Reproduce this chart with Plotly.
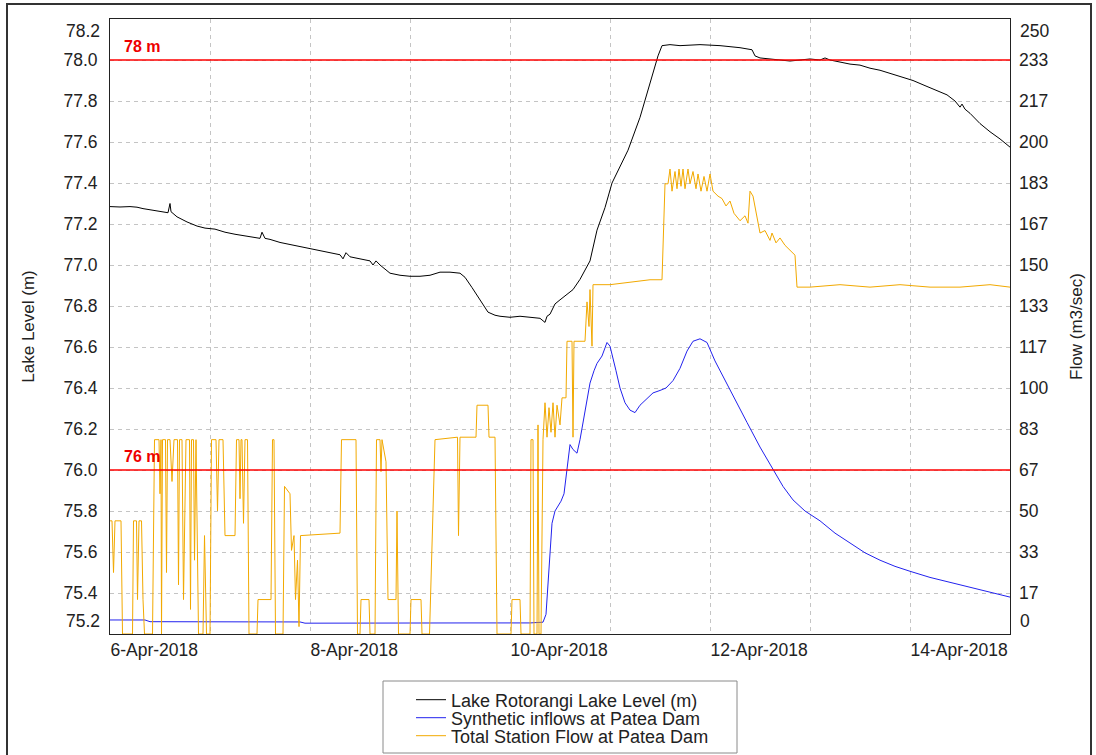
import pandas as pd
import plotly.graph_objects as go

START = pd.Timestamp("2018-04-06 00:00:00")

# Lake Rotorangi lake level (m); time as day offset from 6-Apr-2018 00:00
level_day = [0.00, 0.10, 0.20, 0.27, 0.33, 0.40, 0.47, 0.53, 0.58, 0.60, 0.61, 0.67, 0.77, 0.87,
             0.95, 1.05, 1.15, 1.25, 1.40, 1.50, 1.52, 1.55, 1.60, 1.70, 1.80, 1.90, 2.00, 2.10,
             2.20, 2.30, 2.33, 2.36, 2.40, 2.50, 2.60, 2.63, 2.66, 2.70, 2.80, 2.90, 3.00, 3.10,
             3.20, 3.30, 3.40, 3.50, 3.55, 3.62, 3.70, 3.78, 3.85, 3.90, 4.00, 4.10, 4.20, 4.30,
             4.35, 4.37, 4.40, 4.45, 4.50, 4.55, 4.63, 4.70, 4.80, 4.87, 4.95, 5.02, 5.10, 5.18,
             5.30, 5.40, 5.48, 5.52, 5.60, 5.70, 5.90, 6.10, 6.20, 6.30, 6.42, 6.45, 6.50, 6.60,
             6.70, 6.80, 6.90, 7.00, 7.10, 7.15, 7.20, 7.30, 7.40, 7.50, 7.60, 7.70, 7.80, 7.90,
             8.03, 8.15, 8.25, 8.37, 8.45, 8.50, 8.52, 8.55, 8.60, 8.70, 8.80, 8.90, 9.00]
level_m = [77.285, 77.283, 77.285, 77.282, 77.275, 77.270, 77.265, 77.260, 77.255, 77.300, 77.260,
           77.235, 77.210, 77.190, 77.180, 77.175, 77.160, 77.150, 77.140, 77.130, 77.160, 77.130,
           77.125, 77.110, 77.100, 77.090, 77.080, 77.070, 77.060, 77.050, 77.030, 77.060, 77.040,
           77.030, 77.020, 77.000, 77.020, 77.000, 76.960, 76.950, 76.945, 76.945, 76.950, 76.965,
           76.965, 76.960, 76.940, 76.890, 76.830, 76.770, 76.755, 76.750, 76.745, 76.750, 76.745,
           76.740, 76.720, 76.750, 76.760, 76.810, 76.830, 76.850, 76.880, 76.930, 77.020, 77.170,
           77.280, 77.400, 77.480, 77.560, 77.720, 77.880, 78.020, 78.070, 78.075, 78.070, 78.075,
           78.070, 78.065, 78.060, 78.050, 78.020, 78.010, 78.005, 78.000, 77.995, 78.000, 78.005,
           78.000, 78.010, 78.000, 77.990, 77.980, 77.975, 77.960, 77.950, 77.935, 77.920, 77.900,
           77.875, 77.855, 77.830, 77.800, 77.770, 77.785, 77.760, 77.740, 77.690, 77.650, 77.615,
           77.575]

# Synthetic inflows at Patea Dam (m3/sec)
inflow_day = [0.00, 0.35, 0.40, 1.00, 1.90, 1.95, 2.50, 3.00, 3.60, 4.20, 4.33, 4.36, 4.38, 4.40,
              4.42, 4.45, 4.48, 4.51, 4.54, 4.57, 4.60, 4.63, 4.67, 4.70, 4.73, 4.77, 4.80, 4.84,
              4.87, 4.92, 4.97, 5.00, 5.02, 5.06, 5.10, 5.15, 5.20, 5.25, 5.30, 5.35, 5.43, 5.50,
              5.56, 5.63, 5.70, 5.77, 5.83, 5.90, 5.97, 6.05, 6.10, 6.17, 6.25, 6.37, 6.50, 6.63,
              6.73, 6.83, 6.95, 7.10, 7.25, 7.40, 7.55, 7.70, 7.85, 8.00, 8.20, 8.40, 8.60, 8.80,
              9.00]
inflow_flow = [5.7, 5.7, 5.0, 4.9, 4.9, 4.4, 4.5, 4.4, 4.5, 4.5, 4.8, 8.0, 22.0, 36.0, 45.0, 50.0,
               52.0, 54.0, 57.0, 67.0, 77.0, 75.0, 73.5, 79.0, 86.0, 95.0, 102.0, 107.0, 110.0,
               113.0, 118.5, 117.0, 114.0, 107.0, 100.0, 94.0, 91.0, 90.0, 93.0, 95.0, 98.0, 99.0,
               100.0, 103.0, 108.0, 115.0, 119.0, 120.0, 118.5, 111.0, 107.0, 102.0, 95.0, 86.0,
               76.0, 66.7, 60.0, 54.5, 50.0, 46.0, 41.0, 37.0, 33.0, 30.0, 27.5, 25.5, 23.0, 21.0,
               19.0, 17.0, 15.0]

# Total Station Flow at Patea Dam (m3/sec)
station_day = [0.000, 0.020, 0.035, 0.050, 0.110, 0.125, 0.225, 0.235, 0.265, 0.275, 0.290, 0.315,
               0.330, 0.345, 0.425, 0.445, 0.490, 0.500, 0.510, 0.515, 0.525, 0.555, 0.565, 0.575,
               0.600, 0.620, 0.640, 0.675, 0.685, 0.695, 0.720, 0.735, 0.760, 0.795, 0.805, 0.815,
               0.835, 0.845, 0.860, 0.885, 0.930, 0.945, 0.965, 1.000, 1.015, 1.060, 1.075,
               1.090, 1.130, 1.150, 1.250, 1.265, 1.290, 1.300, 1.310, 1.320, 1.335, 1.350, 1.375,
               1.390, 1.470, 1.480, 1.610, 1.625, 1.640, 1.655, 1.730, 1.745, 1.800, 1.815, 1.840,
               1.855, 1.875, 1.890, 1.905, 2.300, 2.315, 2.460, 2.475, 2.500, 2.510, 2.590, 2.600,
               2.650, 2.665, 2.700, 2.710, 2.720, 2.760, 2.780, 2.860, 2.870, 2.885, 3.000, 3.010,
               3.110, 3.120, 3.195, 3.250, 3.475, 3.485, 3.500, 3.660, 3.670, 3.780, 3.790, 3.850,
               3.870, 4.010, 4.020, 4.100, 4.110, 4.200, 4.210, 4.230, 4.240, 4.270, 4.280, 4.290,
               4.310, 4.330, 4.350, 4.370, 4.390, 4.410, 4.430, 4.450, 4.470, 4.500, 4.520, 4.560,
               4.570, 4.620, 4.630, 4.640, 4.750, 4.770, 4.790, 4.800, 4.810, 4.820, 4.830, 5.000,
               5.200, 5.400, 5.520, 5.550, 5.580, 5.600, 5.620, 5.650, 5.670, 5.690, 5.710, 5.730,
               5.750, 5.780, 5.800, 5.830, 5.860, 5.880, 5.910, 5.940, 5.970, 6.000, 6.030, 6.080,
               6.120, 6.160, 6.200, 6.240, 6.300, 6.350, 6.380, 6.400, 6.430, 6.470, 6.500, 6.550,
               6.600, 6.620, 6.660, 6.700, 6.750, 6.800, 6.850, 6.870, 7.000, 7.300, 7.600, 7.900,
               8.200, 8.500, 8.800, 9.000]
station_flow = [46, 46, 25, 46, 46, 0, 0, 46, 46, 14, 46, 46,
                14, 0, 0, 79, 79, 57, 79, 0, 79, 79, 25, 79,
                79, 62, 79, 79, 20, 79, 79, 14, 79, 79, 10, 79,
                79, 30, 79, 0, 0, 40, 0, 0, 79, 79, 50,
                79, 79, 40, 40, 79, 79, 55, 79, 79, 45, 79, 79,
                0, 0, 14, 14, 79, 79, 0, 0, 60, 57, 34, 40,
                14, 30, 3, 40, 41, 79, 79, 0, 0, 14, 14, 0,
                0, 79, 79, 66, 79, 70, 14, 14, 50, 0, 0, 14,
                14, 0, 0, 79, 80, 40, 80, 80, 93, 93, 80, 80,
                0, 0, 14, 14, 0, 0, 79, 79, 0, 0, 85, 0,
                0, 79, 94, 80, 92, 82, 94, 80, 93, 85, 96, 96,
                119, 119, 80, 119, 119, 135, 125, 140, 126, 117, 142, 142,
                143, 144, 144, 183, 183, 189, 180, 188, 181, 189, 182, 189,
                181, 189, 183, 188, 181, 187, 180, 186, 180, 187, 180, 178,
                177, 174, 176, 171, 168, 170, 167, 180, 178, 170, 163, 164,
                160, 163, 159, 161, 158, 156, 154, 141, 141, 142, 141, 142,
                141, 141, 142, 141]

level_ticks = [75.2, 75.4, 75.6, 75.8, 76.0, 76.2, 76.4, 76.6, 76.8, 77.0, 77.2, 77.4, 77.6,
               77.8, 78.0, 78.2]
level_labels = ["75.2", "75.4", "75.6", "75.8", "76.0", "76.2", "76.4", "76.6", "76.8", "77.0",
                "77.2", "77.4", "77.6", "77.8", "78.0", "78.2"]
flow_labels = ["0", "17", "33", "50", "67", "83", "100", "117", "133", "150", "167", "183",
               "200", "217", "233", "250"]
level_range = [75.2, 78.2]
flow_range = [0, 250]
x_range = ["2018-04-06 00:00", "2018-04-15 00:00"]
ref_levels = [78.0, 76.0]
ref_labels = ["78 m", "76 m"]
series_names = ["Lake Rotorangi Lake Level (m)", "Synthetic inflows at Patea Dam",
                "Total Station Flow at Patea Dam"]

FONT = "Liberation Sans, Arial, sans-serif"
GRID = "#c4c4c4"
TXT = "#222222"
TICK_SIZE = 17.5

W, H = 1096, 755
ML, MR, MT, MB = 110, 86, 19, 121
PW, PH = W - ML - MR, H - MT - MB


def to_time(days):
    return [START + pd.Timedelta(days=d) for d in days]


def px(xp):
    return (xp - ML) / PW


def py(yp):
    return (H - MB - yp) / PH


flow_ticks = [(v - level_range[0]) / (level_range[1] - level_range[0]) * flow_range[1]
              for v in level_ticks]

fig = go.Figure()
fig.add_trace(go.Scatter(x=to_time(level_day), y=level_m, mode="lines", name=series_names[0],
                         legend="legend", line=dict(color="#000000", width=1)))
fig.add_trace(go.Scatter(x=to_time(inflow_day), y=inflow_flow, mode="lines", yaxis="y2",
                         name=series_names[1], legend="legend2",
                         line=dict(color="#2222ee", width=1)))
fig.add_trace(go.Scatter(x=to_time(station_day), y=station_flow, mode="lines", yaxis="y2",
                         name=series_names[2], legend="legend3",
                         line=dict(color="#f2a900", width=1)))

shapes = []
annotations = []
for lv, lab in zip(ref_levels, ref_labels):
    shapes.append(dict(type="line", xref="paper", x0=0, x1=1, yref="y", y0=lv, y1=lv,
                       line=dict(color="#ff0000", width=1.5), layer="above"))
    annotations.append(dict(text=lab, xref="paper", x=px(122), xanchor="left", yref="y", y=lv,
                            yanchor="bottom", yshift=3, showarrow=False,
                            font=dict(family=FONT, size=16, color="#ee0000", weight="bold")))

tick_font = dict(family=FONT, size=TICK_SIZE, color=TXT)
# end tick labels sit just inside the frame
annotations.append(dict(text=level_labels[-1], xref="paper", x=0, xanchor="right", xshift=-8,
                        yref="y", y=level_ticks[-1], yshift=-12, showarrow=False, font=tick_font))
annotations.append(dict(text=level_labels[0], xref="paper", x=0, xanchor="right", xshift=-8,
                        yref="y", y=level_ticks[0], yshift=13, showarrow=False, font=tick_font))
annotations.append(dict(text=flow_labels[-1], xref="paper", x=1, xanchor="left", xshift=8,
                        yref="y2", y=flow_ticks[-1], yshift=-12, showarrow=False, font=tick_font))
annotations.append(dict(text=flow_labels[0], xref="paper", x=1, xanchor="left", xshift=8,
                        yref="y2", y=flow_ticks[0], yshift=13, showarrow=False, font=tick_font))

# outer frame and legend box
shapes.append(dict(type="rect", xref="paper", yref="paper", x0=px(7), x1=px(1091), y0=py(4),
                   y1=py(770), line=dict(color="#333333", width=2), layer="above"))
shapes.append(dict(type="rect", xref="paper", yref="paper", x0=px(383), x1=px(737), y0=py(681),
                   y1=py(753), line=dict(color="#8a8a8a", width=1), fillcolor="rgba(0,0,0,0)",
                   layer="above"))

left_text = [""] + level_labels[1:-1] + [""]
right_text = [""] + flow_labels[1:-1] + [""]

legend_font = dict(family=FONT, size=18, color=TXT)


def legend_at(ycenter):
    return dict(x=px(411), xanchor="left", y=py(ycenter), yanchor="middle",
                bgcolor="rgba(0,0,0,0)", borderwidth=0, font=legend_font)


fig.update_layout(
    width=W, height=H,
    margin=dict(l=ML, r=MR, t=MT, b=MB, pad=0, autoexpand=False),
    paper_bgcolor="white", plot_bgcolor="white",
    font=dict(family=FONT, size=17, color=TXT),
    showlegend=True,
    legend=legend_at(700),
    legend2=legend_at(718),
    legend3=legend_at(736),
    xaxis=dict(type="date", range=x_range, tick0="2018-04-06", dtick=2 * 86400000,
               tickformat="%-d-%b-%Y", ticks="", ticklabelposition="outside right",
               showgrid=True, gridcolor=GRID, griddash="4px,4px", gridwidth=1,
               minor=dict(dtick=86400000, tick0="2018-04-06", showgrid=True, gridcolor=GRID,
                          griddash="4px,4px", gridwidth=1),
               showline=True, linecolor=TXT, linewidth=1, mirror=True, zeroline=False,
               tickfont=tick_font),
    yaxis=dict(range=level_range, tickmode="array", tickvals=level_ticks, ticktext=left_text,
               ticks="", ticklabelstandoff=8, showgrid=True, gridcolor=GRID,
               griddash="4px,4px", gridwidth=1, showline=True, linecolor=TXT, linewidth=1,
               mirror=True, zeroline=False,
               title=dict(text="Lake Level (m)", standoff=24,
                          font=dict(family=FONT, size=17, color=TXT)),
               tickfont=tick_font),
    yaxis2=dict(range=flow_range, overlaying="y", side="right", tickmode="array",
                tickvals=flow_ticks, ticktext=right_text, ticks="", ticklabelstandoff=8,
                showgrid=False, zeroline=False, showline=False,
                title=dict(text="Flow (m3/sec)", standoff=22,
                           font=dict(family=FONT, size=17, color=TXT)),
                tickfont=tick_font),
    shapes=shapes,
    annotations=annotations,
)

fig.write_html("out.html")
